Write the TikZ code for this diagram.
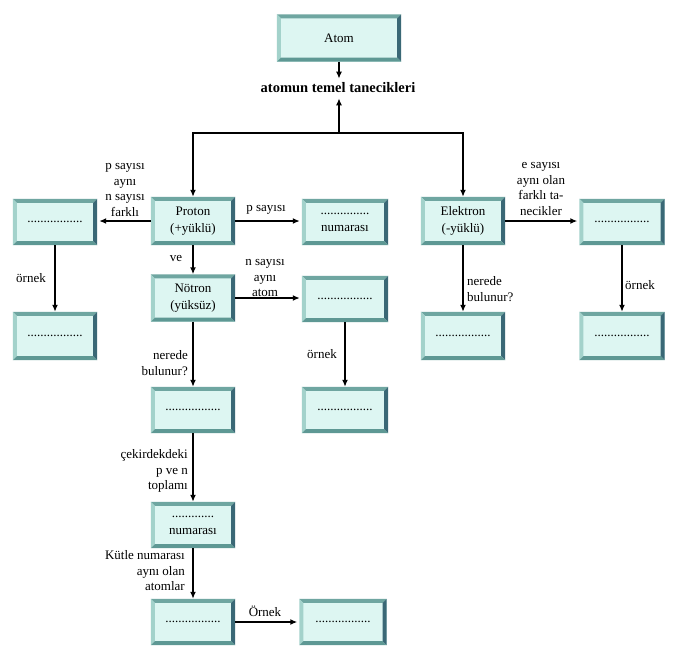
\documentclass[tikz,border=0pt]{standalone}
\usepackage{fontspec}
\setmainfont{Liberation Serif}
\usetikzlibrary{arrows.meta}
\definecolor{boxfill}{HTML}{DDF6F2}
\definecolor{bevT}{HTML}{6FA6A1}
\definecolor{bevL}{HTML}{A3D2CB}
\definecolor{bevR}{HTML}{3A6876}
\definecolor{bevB}{HTML}{5E9894}
\tikzset{
  bx/.style={rectangle, fill=boxfill, inner sep=0pt, minimum width=84pt, minimum height=46pt, align=center, font=\fontsize{13}{17}\selectfont},
  lbl/.style={inner sep=0pt, font=\fontsize{13}{15.5}\selectfont},
  arr/.style={line width=2pt, -{Latex[length=7pt,width=6pt]}},
}
\newcommand{\dts}{.................}
\begin{document}
\begin{tikzpicture}[x=1pt,y=-1pt]
\useasboundingbox[fill=white] (0,0) rectangle (675,653);
% boxes
\node[bx, minimum width=124pt, minimum height=47pt] (atom) at (339,38) {Atom};
\node[bx, minimum height=48pt] (proton) at (193,221) {Proton\\(+yüklü)};
\node[bx] (left1) at (55,222) {\dts};
\node[bx, minimum width=86pt] (num1) at (345,222) {...............\\numarası};
\node[bx, minimum height=47pt] (notron) at (193,298) {Nötron\\(yüksüz)};
\node[bx, minimum width=86pt] (iso) at (345,299) {\dts};
\node[bx, minimum width=86pt] (iso2) at (345,410) {\dts};
\node[bx, minimum height=48pt] (left2) at (55,336) {\dts};
\node[bx] (nuc) at (193,410) {\dts};
\node[bx] (mass) at (193,525) {.............\\numarası};
\node[bx] (isob) at (193,622) {\dts};
\node[bx, minimum width=87pt] (isob2) at (343,622) {\dts};
\node[bx, minimum height=48pt] (elektron) at (463,221) {Elektron\\(-yüklü)};
\node[bx, minimum width=85pt] (ion) at (622,222) {\dts};
\node[bx, minimum height=48pt] (orbit) at (463,336) {\dts};
\node[bx, minimum width=85pt, minimum height=48pt] (ion2) at (622,336) {\dts};
% bevels
\foreach \n in {atom,proton,left1,num1,notron,iso,iso2,left2,nuc,mass,isob,isob2,elektron,ion,orbit,ion2}{
  \fill[bevT] (\n.north west) -- (\n.north east) -- ([shift={(-4,4)}]\n.north east) -- ([shift={(4,4)}]\n.north west) -- cycle;
  \fill[bevL] (\n.north west) -- ([shift={(4,4)}]\n.north west) -- ([shift={(4,-4)}]\n.south west) -- (\n.south west) -- cycle;
  \fill[bevR] (\n.north east) -- (\n.south east) -- ([shift={(-4,-4)}]\n.south east) -- ([shift={(-4,4)}]\n.north east) -- cycle;
  \fill[bevB] (\n.south west) -- (\n.south east) -- ([shift={(-4,-4)}]\n.south east) -- ([shift={(4,-4)}]\n.south west) -- cycle;
}
% title text
\node[inner sep=0pt, font=\fontsize{14.5}{16}\selectfont\bfseries] (temel) at (338,88) {atomun temel tanecikleri};
\coordinate (j) at (339,133);
\draw[arr] (atom.south) -- ([yshift=4pt]temel.north -| atom.south);
\draw[arr] (j) -- ([yshift=-5pt]temel.south -| j);
\draw[arr] (j) -| (proton.north);
\draw[arr] (j) -| (elektron.north);
% connectors
\draw[arr] (proton.west) -- ([xshift=2pt]proton.west -| left1.east);
\draw[arr] (proton.east) -- ([xshift=-2pt]proton.east -| num1.west);
\draw[arr] (proton.south) -- (notron.north);
\draw[arr] (notron.east) -- ([xshift=-2pt]notron.east -| iso.west);
\draw[arr] (iso.south) -- (iso2.north);
\draw[arr] (left1.south) -- (left2.north);
\draw[arr] (notron.south) -- (nuc.north);
\draw[arr] (nuc.south) -- (mass.north);
\draw[arr] (mass.south) -- (isob.north);
\draw[arr] (isob.east) -- ([xshift=-2pt]isob2.west);
\draw[arr] (elektron.east) -- ([xshift=-2pt]elektron.east -| ion.west);
\draw[arr] (elektron.south) -- (orbit.north);
\draw[arr] (ion.south) -- (ion2.north);
% labels
\node[lbl, align=center] (l1) at (125,190) {p sayısı\\aynı\\n sayısı\\farklı};
\node[lbl] (l2) at (266,210) {p sayısı};
\node[lbl] (l3) at (176,258) {ve};
\node[lbl, align=center] (l4) at (265,278) {n sayısı\\aynı\\atom};
\node[lbl] (l5) at (322,354) {örnek};
\node[lbl] (l6) at (31,278) {örnek};
\node[lbl, align=right, anchor=east] (l7) at (188,363) {nerede\\bulunur?};
\node[lbl, align=right, anchor=east] (l8) at (188,471) {çekirdekdeki\\p ve n\\toplamı};
\node[lbl, align=right, anchor=east] (l9) at (185,571) {Kütle numarası\\aynı olan\\atomlar};
\node[lbl] (l10) at (265,611) {Örnek};
\node[lbl, align=center] (l11) at (541,189) {e sayısı\\aynı olan\\farklı ta-\\necikler};
\node[lbl, align=left, anchor=west] (l12) at (467,289) {nerede\\bulunur?};
\node[lbl] (l13) at (640,285) {örnek};
\end{tikzpicture}
\end{document}
